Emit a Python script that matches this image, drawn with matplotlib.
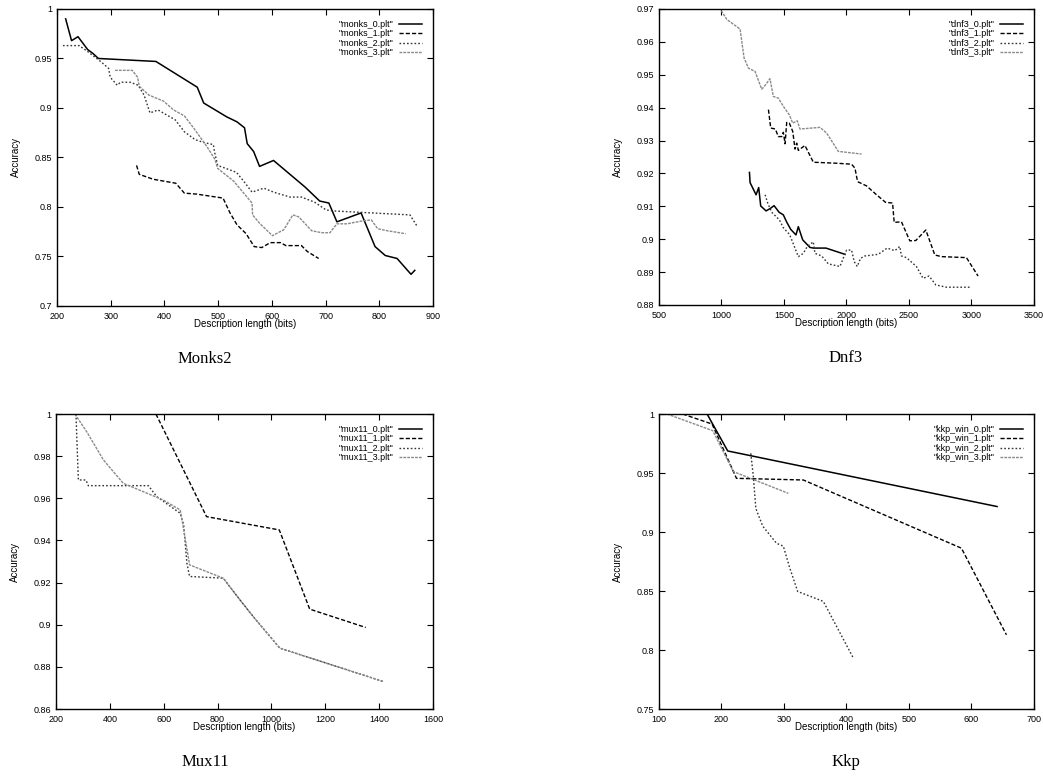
import matplotlib
matplotlib.use("Agg")
import matplotlib.pyplot as plt

# ---- Monks2 ----
monks_0_x = [216, 227, 239, 257, 267, 277, 384, 461, 473, 516, 535, 549, 554, 566, 577, 603, 662, 689, 706, 721, 766, 792, 811, 833, 859, 866]
monks_0_y = [0.990, 0.968, 0.972, 0.959, 0.955, 0.950, 0.947, 0.921, 0.905, 0.891, 0.886, 0.880, 0.864, 0.856, 0.841, 0.847, 0.820, 0.806, 0.804, 0.785, 0.794, 0.760, 0.751, 0.748, 0.732, 0.736]
monks_1_x = [348, 353, 379, 421, 437, 460, 509, 522, 535, 552, 567, 581, 597, 616, 626, 655, 666, 687]
monks_1_y = [0.842, 0.833, 0.828, 0.824, 0.814, 0.813, 0.809, 0.794, 0.782, 0.773, 0.760, 0.759, 0.764, 0.764, 0.761, 0.761, 0.755, 0.748]
monks_2_x = [211, 241, 257, 281, 296, 299, 312, 318, 336, 351, 362, 373, 388, 420, 437, 457, 474, 491, 493, 499, 534, 549, 563, 585, 603, 634, 655, 679, 701, 715, 857, 871]
monks_2_y = [0.963, 0.963, 0.957, 0.947, 0.940, 0.931, 0.923, 0.926, 0.926, 0.923, 0.913, 0.895, 0.898, 0.888, 0.876, 0.868, 0.865, 0.863, 0.856, 0.842, 0.835, 0.825, 0.815, 0.819, 0.815, 0.810, 0.810, 0.805, 0.797, 0.796, 0.792, 0.780]
monks_3_x = [308, 340, 350, 353, 371, 398, 417, 437, 454, 479, 494, 499, 529, 563, 564, 578, 601, 622, 639, 650, 674, 693, 708, 721, 740, 769, 785, 797, 815, 849]
monks_3_y = [0.938, 0.938, 0.931, 0.922, 0.913, 0.907, 0.898, 0.892, 0.880, 0.861, 0.848, 0.839, 0.826, 0.804, 0.792, 0.783, 0.771, 0.777, 0.792, 0.790, 0.776, 0.774, 0.774, 0.783, 0.783, 0.786, 0.787, 0.778, 0.776, 0.773]

# ---- Dnf3 ----
dnf3_0_x = [1224, 1229, 1277, 1298, 1314, 1357, 1389, 1421, 1461, 1495, 1522, 1554, 1596, 1615, 1650, 1708, 1735, 1836, 1988]
dnf3_0_y = [0.9203, 0.9172, 0.9135, 0.9157, 0.9101, 0.9086, 0.9093, 0.9102, 0.9082, 0.9074, 0.9052, 0.9030, 0.9013, 0.9038, 0.8998, 0.8975, 0.8973, 0.8973, 0.8954]
dnf3_1_x = [1376, 1394, 1431, 1455, 1482, 1495, 1509, 1522, 1543, 1570, 1589, 1602, 1615, 1668, 1735, 1921, 2041, 2068, 2089, 2161, 2241, 2313, 2369, 2382, 2440, 2507, 2555, 2635, 2707, 2760, 2960, 3053]
dnf3_1_y = [0.9394, 0.9338, 0.9335, 0.9312, 0.9312, 0.9325, 0.9290, 0.9355, 0.9353, 0.9328, 0.9274, 0.9292, 0.9270, 0.9285, 0.9234, 0.9231, 0.9228, 0.9216, 0.9175, 0.9162, 0.9135, 0.9112, 0.9110, 0.9051, 0.9053, 0.8995, 0.8996, 0.9028, 0.8952, 0.8947, 0.8944, 0.8888]
dnf3_2_x = [1349, 1370, 1402, 1463, 1495, 1543, 1554, 1615, 1655, 1687, 1735, 1748, 1802, 1855, 1948, 2001, 2041, 2062, 2086, 2113, 2148, 2254, 2326, 2387, 2427, 2440, 2480, 2560, 2613, 2661, 2715, 2800, 2999]
dnf3_2_y = [0.9135, 0.9110, 0.9082, 0.9059, 0.9035, 0.9015, 0.9006, 0.8947, 0.8957, 0.8978, 0.8992, 0.8957, 0.8949, 0.8925, 0.8917, 0.8967, 0.8967, 0.8932, 0.8917, 0.8942, 0.8949, 0.8954, 0.8973, 0.8965, 0.8978, 0.8949, 0.8944, 0.8917, 0.8881, 0.8888, 0.8861, 0.8854, 0.8854]
dnf3_3_x = [998, 1043, 1149, 1181, 1216, 1269, 1322, 1348, 1388, 1415, 1455, 1495, 1543, 1570, 1607, 1628, 1788, 1841, 1935, 2121]
dnf3_3_y = [0.9695, 0.9668, 0.9639, 0.9551, 0.9520, 0.9510, 0.9456, 0.9467, 0.9488, 0.9434, 0.9429, 0.9404, 0.9378, 0.9353, 0.9360, 0.9335, 0.9340, 0.9323, 0.9267, 0.9259]

# ---- Mux11 ----
mux11_0_x = []
mux11_0_y = []
mux11_1_x = [571, 759, 1029, 1142, 1350]
mux11_1_y = [1.0, 0.9513, 0.9450, 0.9074, 0.8987]
mux11_2_x = [274, 283, 311, 320, 543, 574, 661, 674, 686, 696, 821, 883, 932, 1031, 1414]
mux11_2_y = [1.0, 0.9687, 0.9687, 0.9660, 0.9660, 0.9608, 0.9529, 0.9474, 0.9292, 0.9229, 0.9221, 0.9118, 0.9039, 0.8889, 0.8731]
mux11_3_x = [270, 314, 376, 450, 598, 661, 670, 696, 821, 883, 932, 1031, 1414]
mux11_3_y = [1.0, 0.9916, 0.9782, 0.9671, 0.9592, 0.9545, 0.9482, 0.9284, 0.9221, 0.9118, 0.9039, 0.8889, 0.8731]

# ---- Kkp ----
kkp_0_x = [177, 210, 641]
kkp_0_y = [1.0, 0.9687, 0.9216]
kkp_1_x = [138, 185, 224, 331, 584, 656]
kkp_1_y = [1.0, 0.9915, 0.9455, 0.9441, 0.8863, 0.8129]
kkp_2_x = [247, 251, 255, 266, 288, 299, 309, 322, 363, 411]
kkp_2_y = [0.9667, 0.947, 0.920, 0.905, 0.8905, 0.888, 0.870, 0.8496, 0.8412, 0.7932]
kkp_3_x = [113, 186, 219, 307]
kkp_3_y = [1.0, 0.9859, 0.9512, 0.9328]

STYLES = [
    dict(color="black", lw=1.1, ls="-"),
    dict(color="black", lw=1.0, ls=(0, (3, 1.5))),
    dict(color="#333333", lw=1.0, ls=(0, (1.2, 1.5))),
    dict(color="#8a8a8a", lw=1.0, ls=(0, (2, 0.8))),
]

panels = [
    ("Monks2", [0.0547, 0.6077, 0.3605, 0.3808], (200, 900), (0.7, 1.0),
     [200, 300, 400, 500, 600, 700, 800, 900], [0.7, 0.75, 0.8, 0.85, 0.9, 0.95, 1.0],
     ['"monks_0.plt"', '"monks_1.plt"', '"monks_2.plt"', '"monks_3.plt"'],
     [(monks_0_x, monks_0_y), (monks_1_x, monks_1_y), (monks_2_x, monks_2_y), (monks_3_x, monks_3_y)]),
    ("Dnf3", [0.6318, 0.6090, 0.3595, 0.3795], (500, 3500), (0.88, 0.97),
     [500, 1000, 1500, 2000, 2500, 3000, 3500], [0.88, 0.89, 0.90, 0.91, 0.92, 0.93, 0.94, 0.95, 0.96, 0.97],
     ['"dnf3_0.plt"', '"dnf3_1.plt"', '"dnf3_2.plt"', '"dnf3_3.plt"'],
     [(dnf3_0_x, dnf3_0_y), (dnf3_1_x, dnf3_1_y), (dnf3_2_x, dnf3_2_y), (dnf3_3_x, dnf3_3_y)]),
    ("Mux11", [0.0537, 0.0910, 0.3615, 0.3782], (200, 1600), (0.86, 1.0),
     [200, 400, 600, 800, 1000, 1200, 1400, 1600], [0.86, 0.88, 0.9, 0.92, 0.94, 0.96, 0.98, 1.0],
     ['"mux11_0.plt"', '"mux11_1.plt"', '"mux11_2.plt"', '"mux11_3.plt"'],
     [(mux11_0_x, mux11_0_y), (mux11_1_x, mux11_1_y), (mux11_2_x, mux11_2_y), (mux11_3_x, mux11_3_y)]),
    ("Kkp", [0.6318, 0.0910, 0.3595, 0.3782], (100, 700), (0.75, 1.0),
     [100, 200, 300, 400, 500, 600, 700], [0.75, 0.8, 0.85, 0.9, 0.95, 1.0],
     ['"kkp_win_0.plt"', '"kkp_win_1.plt"', '"kkp_win_2.plt"', '"kkp_win_3.plt"'],
     [(kkp_0_x, kkp_0_y), (kkp_1_x, kkp_1_y), (kkp_2_x, kkp_2_y), (kkp_3_x, kkp_3_y)]),
]


def fmt(v):
    return "%g" % v


def main() -> None:
    plt.rcParams["font.family"] = ["Liberation Sans", "DejaVu Sans"]
    fig = plt.figure(figsize=(10.43, 7.8), dpi=100)

    for title, rect, xlim, ylim, xt, yt, labels, series in panels:
        ax = fig.add_axes(rect)
        for (xs, ys), lab, st in zip(series, labels, STYLES):
            ax.plot(xs, ys, label=lab, **st)
        ax.set_xlim(*xlim)
        ax.set_ylim(*ylim)
        ax.set_xticks(xt)
        ax.set_xticklabels([fmt(v) for v in xt])
        ax.set_yticks(yt)
        ax.set_yticklabels([fmt(round(v, 3)) for v in yt])
        ax.tick_params(direction="in", length=4, width=0.8, top=True, right=True,
                       labelsize=6.5, colors="black")
        ax.tick_params(axis="x", pad=4)
        ax.tick_params(axis="y", pad=3.5)
        for s in ax.spines.values():
            s.set_linewidth(1.0)
        ax.set_xlabel("Description length (bits)", fontsize=7, labelpad=-1)
        ax.set_ylabel("Accuracy", fontsize=7, labelpad=10)
        ax.legend(loc="upper right", frameon=False, fontsize=6.5, markerfirst=False,
                  handlelength=2.6, handletextpad=0.6, labelspacing=0.05,
                  borderaxespad=0.8)
        if rect[0] > 0.5:
            cx = 846 / 1043
        else:
            cx = 205 / 1043
        cy = rect[1] - 53 / 780
        fig.text(cx, cy, title, ha="center", va="center", fontsize=12,
                 family=["Liberation Serif", "DejaVu Serif"])

    fig.savefig("out.png", dpi=100)


if __name__ == "__main__":
    main()
